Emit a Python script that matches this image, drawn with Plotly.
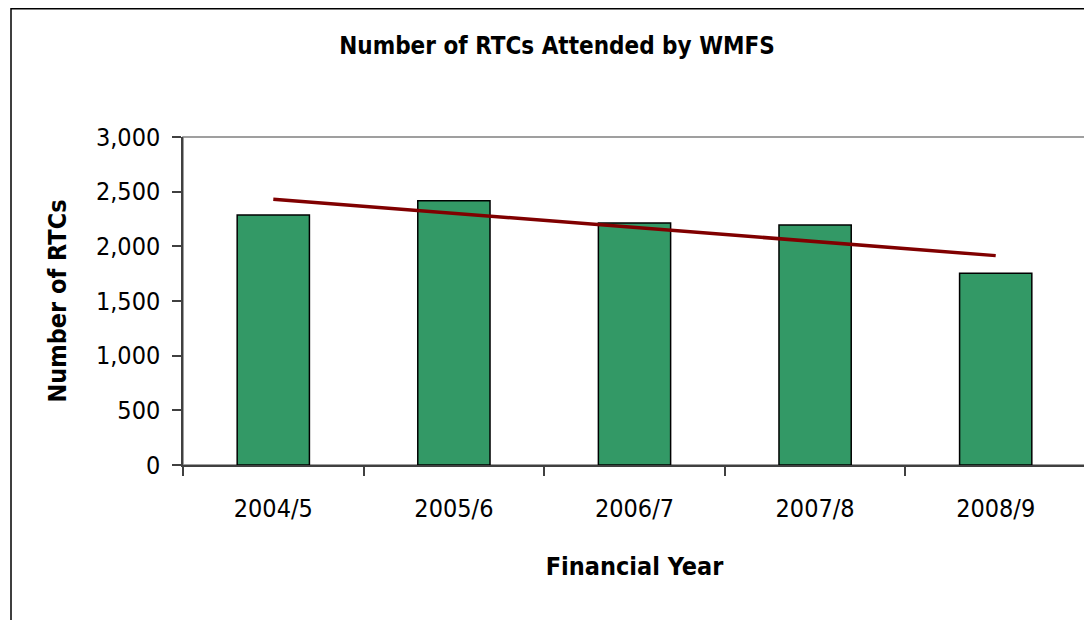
import numpy as np
import plotly.graph_objects as go

years = ["2004/5", "2005/6", "2006/7", "2007/8", "2008/9"]
rtcs = [2287, 2417, 2213, 2195, 1753]

# Linear trendline (as in the original spreadsheet chart)
xi = np.arange(len(rtcs))
slope, intercept = np.polyfit(xi, rtcs, 1)
trend = list(intercept + slope * xi)

FONT = "Liberation Sans Narrow, Arial Narrow, DejaVu Sans Condensed, sans-serif"
W, H = 1092, 620
OFF = 8  # page body margin offset
# target screen positions of the plot area
SL, SR, ST, SB = 183, 1086, 137, 465
L = SL - OFF
T = ST - OFF
R = W - (SR - OFF)
B = H - (SB - OFF)

fig = go.Figure()
fig.add_trace(go.Bar(
    x=years, y=rtcs,
    marker=dict(color="#339966", line=dict(color="#000000", width=1.5)),
    width=0.4, showlegend=False,
))
fig.add_trace(go.Scatter(
    x=years, y=trend, mode="lines",
    line=dict(color="#800000", width=3.5), showlegend=False,
))

pw = W - L - R
ph = H - T - B
fig.add_shape(type="rect", xref="paper", yref="paper",
              x0=0, x1=1, y0=0, y1=1,
              line=dict(color="#808080", width=1.5), layer="below")
# outer chart border (screen x=11, top as high as the page allows)
fig.add_shape(type="rect", xref="paper", yref="paper",
              x0=(11 - SL) / pw, x1=(W + 40 - SL) / pw,
              y0=-(700 - SB) / ph, y1=(SB - 8.8) / ph,
              line=dict(color="#000000", width=1.5), fillcolor="rgba(0,0,0,0)")

fig.update_layout(
    width=W, height=H,
    margin=dict(l=L, r=R, t=T, b=B),
    paper_bgcolor="white", plot_bgcolor="white",
    font=dict(family=FONT, color="#000000"),
    title=dict(text="<b>Number of RTCs Attended by WMFS</b>",
               x=(557 - OFF) / W, xanchor="center", y=1 - (46 - OFF) / H, yanchor="middle",
               font=dict(family=FONT, size=24)),
    bargap=0.6,
    xaxis=dict(
        type="category", tickson="boundaries", ticks="outside", ticklen=9,
        tickcolor="#404040", tickwidth=1.5,
        showline=True, linecolor="#404040", linewidth=1.5,
        showgrid=False, tickfont=dict(size=25), ticklabelstandoff=20,
        title=dict(text="<b>Financial Year</b>", font=dict(size=25), standoff=36),
    ),
    yaxis=dict(
        range=[0, 3000], dtick=500, tickformat=",", ticks="outside", ticklen=9,
        tickcolor="#404040", tickwidth=1.5,
        showline=True, linecolor="#404040", linewidth=1.5,
        showgrid=False, zeroline=False, tickfont=dict(size=25), ticklabelstandoff=7,
        title=dict(text="<b>Number of RTCs</b>", font=dict(size=25), standoff=22),
    ),
)

fig.write_html("out.html")
